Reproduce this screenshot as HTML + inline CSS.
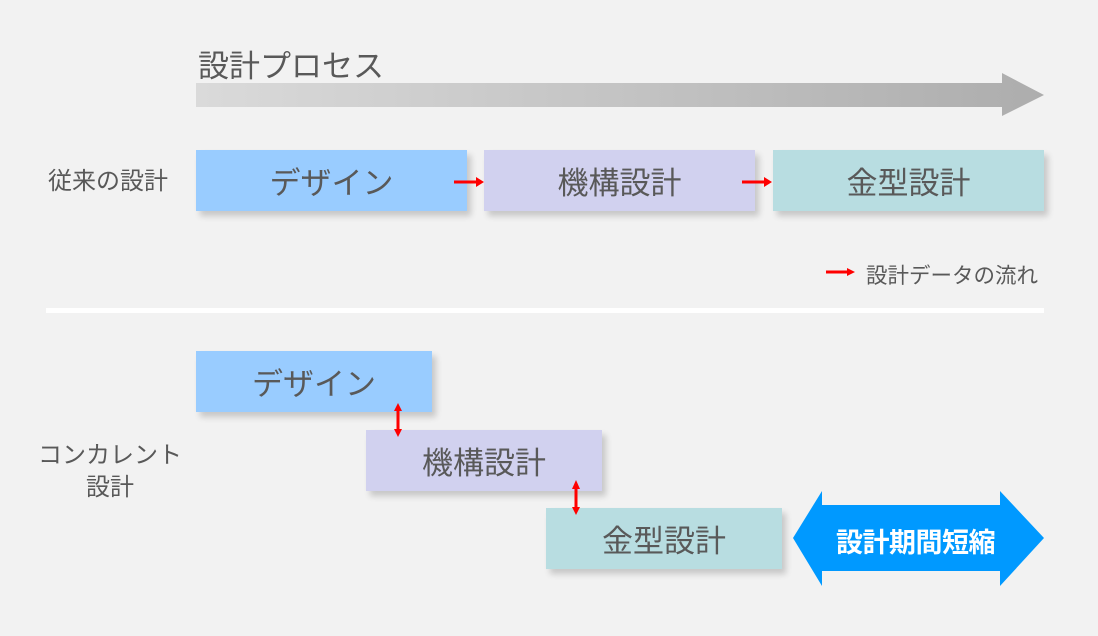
<!DOCTYPE html>
<html><head><meta charset="utf-8"><style>
body{margin:0;width:1098px;height:636px;background:#f2f2f2;position:relative;overflow:hidden;font-family:"Liberation Sans","Noto Sans CJK JP",sans-serif;color:#595959}
.b{position:absolute;display:flex;align-items:center;justify-content:center;font-size:31px;box-shadow:4px 5px 6px rgba(0,0,0,0.18)}
.t{position:absolute;white-space:nowrap}
</style></head><body>
<div class="t" style="left:198px;top:41px;font-size:31px">設計プロセス</div>
<div class="t" style="left:48px;top:161px;font-size:24px">従来の設計</div>
<div class="b" style="left:196px;top:150px;width:271px;height:61px;background:#99ccff">デザイン</div>
<div class="b" style="left:484px;top:150px;width:271px;height:61px;background:#d1d1ef">機構設計</div>
<div class="b" style="left:773px;top:150px;width:271px;height:61px;background:#b8dde1">金型設計</div>
<div class="t" style="left:866px;top:259px;font-size:21.5px">設計データの流れ</div>
<div class="t" style="left:38px;top:440px;font-size:24px;text-align:center;line-height:32px">コンカレント<br>設計</div>
<div class="b" style="left:196px;top:351px;width:236px;height:61px;background:#99ccff">デザイン</div>
<div class="b" style="left:366px;top:430px;width:236px;height:61px;background:#d1d1ef">機構設計</div>
<div class="b" style="left:546px;top:508px;width:236px;height:61px;background:#b8dde1">金型設計</div>
<svg style="position:absolute;left:0;top:0" width="1098" height="636">
<defs><linearGradient id="g" x1="0" x2="1"><stop offset="0" stop-color="#dadada"/><stop offset="1" stop-color="#adadad"/></linearGradient></defs>
<polygon points="196,83 1002,83 1002,73 1044,95 1002,116 1002,107 196,107" fill="url(#g)"/>
<rect x="46" y="308" width="998" height="5" fill="#fff"/>
<g stroke="#ff0000" stroke-width="3" fill="#ff0000">
<line x1="454" y1="182" x2="477" y2="182"/><polygon points="476,177 484,182 476,187" stroke="none"/>
<line x1="742" y1="182" x2="765" y2="182"/><polygon points="764,177 772,182 764,187" stroke="none"/>
<line x1="826" y1="272" x2="848" y2="272"/><polygon points="847,268 855,272 847,276" stroke="none"/>
<line x1="398" y1="410" x2="398" y2="430"/><polygon points="394,411 398,403 402,411" stroke="none"/><polygon points="394,429 398,437 402,429" stroke="none"/>
<line x1="576" y1="488" x2="576" y2="508"/><polygon points="572,489 576,480 580,489" stroke="none"/><polygon points="572,507 576,515 580,507" stroke="none"/>
</g>
<polygon points="793,538 822,491 822,505 1000,505 1000,491 1044,538 1000,586 1000,571 822,571 822,586" fill="#0099ff"/>
</svg>
<div class="t" style="left:836px;top:521px;font-size:27px;font-weight:bold;color:#fff;letter-spacing:-0.5px">設計期間短縮</div>
</body></html>
